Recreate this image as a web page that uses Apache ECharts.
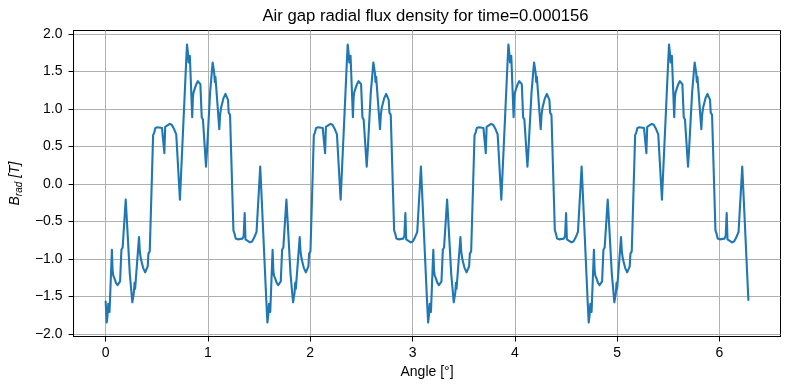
<!DOCTYPE html>
<html>
<head>
<meta charset="utf-8">
<script src="https://cdn.jsdelivr.net/npm/echarts@6/dist/echarts.min.js"></script>
<style>
html,body{margin:0;padding:0;background:#fff;}
#chart{width:789px;height:390px;}
</style>
</head>
<body>
<div id="chart"></div>
<script>
// Period 1 (0 .. pi/2)
var angleP1 = [0.000,0.010,0.018,0.026,0.032,0.038,0.061,0.068,0.074,0.086,0.101,0.116,0.131,0.141,0.154,0.166,0.174,0.196,0.206,0.236,0.261,0.268,0.276,0.282,0.288,0.293,0.326,0.334,0.344,0.366,0.386,0.401,0.411,0.418,0.431,0.438,0.464,0.474,0.486,0.506,0.551,0.564,0.574,0.582,0.596,0.626,0.646,0.666,0.678,0.690,0.726,0.785,0.795,0.803,0.811,0.817,0.823,0.846,0.853,0.859,0.871,0.886,0.901,0.916,0.926,0.939,0.951,0.959,0.981,0.991,1.021,1.046,1.053,1.061,1.067,1.073,1.078,1.111,1.119,1.129,1.151,1.171,1.186,1.196,1.203,1.216,1.223,1.249,1.259,1.271,1.291,1.336,1.349,1.359,1.367,1.381,1.411,1.431,1.451,1.463,1.475,1.511];
var bP1 = [-1.57,-1.85,-1.76,-1.60,-1.66,-1.71,-0.88,-1.15,-1.22,-1.26,-1.32,-1.35,-1.34,-1.30,-0.88,-0.85,-0.84,-0.21,-0.45,-1.20,-1.58,-1.60,-1.45,-1.32,-1.40,-1.42,-0.71,-0.90,-1.00,-1.12,-1.18,-1.20,-1.10,-0.93,-0.90,-0.88,0.65,0.68,0.745,0.755,0.745,0.72,0.41,0.76,0.78,0.80,0.79,0.74,0.72,0.66,-0.21,1.57,1.86,1.76,1.62,1.66,1.71,0.89,1.15,1.22,1.27,1.33,1.37,1.37,1.33,0.89,0.86,0.85,0.23,0.45,1.22,1.62,1.64,1.48,1.36,1.43,1.45,0.73,0.92,1.02,1.14,1.20,1.22,1.12,0.95,0.92,0.90,-0.62,-0.66,-0.73,-0.74,-0.73,-0.70,-0.39,-0.74,-0.76,-0.78,-0.77,-0.72,-0.70,-0.64,0.23];

// Period 2 (pi/2 .. pi)
var angleP2 = [1.571,1.581,1.589,1.597,1.603,1.609,1.632,1.639,1.645,1.657,1.672,1.687,1.702,1.712,1.725,1.737,1.745,1.767,1.777,1.807,1.832,1.839,1.847,1.853,1.859,1.864,1.897,1.905,1.915,1.937,1.957,1.972,1.982,1.989,2.002,2.009,2.035,2.045,2.057,2.077,2.122,2.135,2.145,2.153,2.167,2.197,2.217,2.237,2.249,2.261,2.297,2.356,2.366,2.374,2.382,2.388,2.394,2.417,2.424,2.430,2.442,2.457,2.472,2.487,2.497,2.510,2.522,2.530,2.552,2.562,2.592,2.617,2.624,2.632,2.638,2.644,2.649,2.682,2.690,2.700,2.722,2.742,2.757,2.767,2.774,2.787,2.794,2.820,2.830,2.842,2.862,2.907,2.920,2.930,2.938,2.952,2.982,3.002,3.022,3.034,3.046,3.082];
var bP2 = [-1.57,-1.85,-1.76,-1.60,-1.66,-1.71,-0.88,-1.15,-1.22,-1.26,-1.32,-1.35,-1.34,-1.30,-0.88,-0.85,-0.84,-0.21,-0.45,-1.20,-1.58,-1.60,-1.45,-1.32,-1.40,-1.42,-0.71,-0.90,-1.00,-1.12,-1.18,-1.20,-1.10,-0.93,-0.90,-0.88,0.65,0.68,0.745,0.755,0.745,0.72,0.41,0.76,0.78,0.80,0.79,0.74,0.72,0.66,-0.21,1.57,1.86,1.76,1.62,1.66,1.71,0.89,1.15,1.22,1.27,1.33,1.37,1.37,1.33,0.89,0.86,0.85,0.23,0.45,1.22,1.62,1.64,1.48,1.36,1.43,1.45,0.73,0.92,1.02,1.14,1.20,1.22,1.12,0.95,0.92,0.90,-0.62,-0.66,-0.73,-0.74,-0.73,-0.70,-0.39,-0.74,-0.76,-0.78,-0.77,-0.72,-0.70,-0.64,0.23];

// Period 3 (pi .. 3pi/2)
var angleP3 = [3.142,3.152,3.160,3.168,3.174,3.180,3.203,3.210,3.216,3.228,3.243,3.258,3.273,3.283,3.296,3.308,3.316,3.338,3.348,3.378,3.403,3.410,3.418,3.424,3.430,3.435,3.468,3.476,3.486,3.508,3.528,3.543,3.553,3.560,3.573,3.580,3.606,3.616,3.628,3.648,3.693,3.706,3.716,3.724,3.738,3.768,3.788,3.808,3.820,3.832,3.868,3.927,3.937,3.945,3.953,3.959,3.965,3.988,3.995,4.001,4.013,4.028,4.043,4.058,4.068,4.081,4.093,4.101,4.123,4.133,4.163,4.188,4.195,4.203,4.209,4.215,4.220,4.253,4.261,4.271,4.293,4.313,4.328,4.338,4.345,4.358,4.365,4.391,4.401,4.413,4.433,4.478,4.491,4.501,4.509,4.523,4.553,4.573,4.593,4.605,4.617,4.653];
var bP3 = [-1.57,-1.85,-1.76,-1.60,-1.66,-1.71,-0.88,-1.15,-1.22,-1.26,-1.32,-1.35,-1.34,-1.30,-0.88,-0.85,-0.84,-0.21,-0.45,-1.20,-1.58,-1.60,-1.45,-1.32,-1.40,-1.42,-0.71,-0.90,-1.00,-1.12,-1.18,-1.20,-1.10,-0.93,-0.90,-0.88,0.65,0.68,0.745,0.755,0.745,0.72,0.41,0.76,0.78,0.80,0.79,0.74,0.72,0.66,-0.21,1.57,1.86,1.76,1.62,1.66,1.71,0.89,1.15,1.22,1.27,1.33,1.37,1.37,1.33,0.89,0.86,0.85,0.23,0.45,1.22,1.62,1.64,1.48,1.36,1.43,1.45,0.73,0.92,1.02,1.14,1.20,1.22,1.12,0.95,0.92,0.90,-0.62,-0.66,-0.73,-0.74,-0.73,-0.70,-0.39,-0.74,-0.76,-0.78,-0.77,-0.72,-0.70,-0.64,0.23];

// Period 4 (3pi/2 .. 2pi)
var angleP4 = [4.712,4.722,4.730,4.738,4.744,4.750,4.773,4.780,4.786,4.798,4.813,4.828,4.843,4.853,4.866,4.878,4.886,4.908,4.918,4.948,4.973,4.980,4.988,4.994,5.000,5.005,5.038,5.046,5.056,5.078,5.098,5.113,5.123,5.130,5.143,5.150,5.176,5.186,5.198,5.218,5.263,5.276,5.286,5.294,5.308,5.338,5.358,5.378,5.390,5.402,5.438,5.497,5.507,5.515,5.523,5.529,5.535,5.558,5.565,5.571,5.583,5.598,5.613,5.628,5.638,5.651,5.663,5.671,5.693,5.703,5.733,5.758,5.765,5.773,5.779,5.785,5.790,5.823,5.831,5.841,5.863,5.883,5.898,5.908,5.915,5.928,5.935,5.961,5.971,5.983,6.003,6.048,6.061,6.071,6.079,6.093,6.123,6.143,6.163,6.175,6.187,6.223,6.283];
var bP4 = [-1.57,-1.85,-1.76,-1.60,-1.66,-1.71,-0.88,-1.15,-1.22,-1.26,-1.32,-1.35,-1.34,-1.30,-0.88,-0.85,-0.84,-0.21,-0.45,-1.20,-1.58,-1.60,-1.45,-1.32,-1.40,-1.42,-0.71,-0.90,-1.00,-1.12,-1.18,-1.20,-1.10,-0.93,-0.90,-0.88,0.65,0.68,0.745,0.755,0.745,0.72,0.41,0.76,0.78,0.80,0.79,0.74,0.72,0.66,-0.21,1.57,1.86,1.76,1.62,1.66,1.71,0.89,1.15,1.22,1.27,1.33,1.37,1.37,1.33,0.89,0.86,0.85,0.23,0.45,1.22,1.62,1.64,1.48,1.36,1.43,1.45,0.73,0.92,1.02,1.14,1.20,1.22,1.12,0.95,0.92,0.90,-0.62,-0.66,-0.73,-0.74,-0.73,-0.70,-0.39,-0.74,-0.76,-0.78,-0.77,-0.72,-0.70,-0.64,0.23,-1.55];

var xTicks = [0, 1, 2, 3, 4, 5, 6];
var yTicks = [-2.0, -1.5, -1.0, -0.5, 0.0, 0.5, 1.0, 1.5, 2.0];
var titleText = 'Air gap radial flux density for time=0.000156';
var xLabel = 'Angle [°]';

var points = [];
[[angleP1, bP1], [angleP2, bP2], [angleP3, bP3], [angleP4, bP4]].forEach(function (p) {
  for (var i = 0; i < p[0].length; i++) points.push([p[0][i], p[1][i]]);
});

var FONT = "'Liberation Sans', Arial, sans-serif";
var chart = echarts.init(document.getElementById('chart'), null, {renderer: 'canvas'});
var gridLeft = 70.5, gridTop = 30.5, gridW = 710, gridH = 306;

chart.setOption({
  animation: false,
  backgroundColor: '#ffffff',
  textStyle: {fontFamily: FONT},
  graphic: [{
    type: 'text',
    x: gridLeft + gridW / 2,
    y: 16,
    style: {text: titleText, fill: '#000', font: '16.7px ' + FONT, textAlign: 'center', textVerticalAlign: 'middle'}
  }],
  grid: {left: gridLeft, top: gridTop, width: gridW, height: gridH, show: true, borderColor: '#000', borderWidth: 1, backgroundColor: 'transparent'},
  xAxis: {
    type: 'value', min: -0.314, max: 6.597,
    name: xLabel, nameLocation: 'middle', nameGap: 29,
    nameTextStyle: {fontSize: 14, color: '#000', fontFamily: FONT},
    axisLine: {show: true, onZero: false, lineStyle: {color: '#000', width: 1}},
    axisTick: {show: true, inside: false, length: 5, customValues: xTicks, lineStyle: {color: '#000', width: 1}},
    axisLabel: {customValues: xTicks, fontSize: 14, color: '#000', margin: 10, fontFamily: FONT,
      formatter: function (v) { return String(v).replace('-', '\u2212'); }},
    splitLine: {show: true, lineStyle: {color: '#b0b0b0', width: 1}}
  },
  yAxis: {
    type: 'value', min: -2.036, max: 2.046,
    name: '{b|B}{s|rad}{t| [T]}', nameLocation: 'middle', nameGap: 44, nameRotate: 90,
    nameTextStyle: {
      color: '#000', fontFamily: FONT,
      rich: {
        b: {fontSize: 14, fontStyle: 'italic', color: '#000', fontFamily: FONT, lineHeight: 18, verticalAlign: 'middle'},
        s: {fontSize: 10, fontStyle: 'italic', color: '#000', fontFamily: FONT, lineHeight: 10, verticalAlign: 'bottom'},
        t: {fontSize: 14, fontStyle: 'italic', color: '#000', fontFamily: FONT, lineHeight: 18, verticalAlign: 'middle'}
      }
    },
    axisLine: {show: true, onZero: false, lineStyle: {color: '#000', width: 1}},
    axisTick: {show: true, inside: false, length: 5, customValues: yTicks, lineStyle: {color: '#000', width: 1}},
    axisLabel: {customValues: yTicks, fontSize: 14, color: '#000', margin: 11, fontFamily: FONT,
      formatter: function (v) { return v.toFixed(1).replace('-', '\u2212'); }},
    splitLine: {show: true, lineStyle: {color: '#b0b0b0', width: 1}}
  },
  series: [{
    type: 'line',
    data: points,
    showSymbol: false,
    clip: true,
    lineStyle: {color: '#1f77b4', width: 2.1, join: 'round', cap: 'round'},
    itemStyle: {color: '#1f77b4'}
  }]
});
</script>
</body>
</html>
